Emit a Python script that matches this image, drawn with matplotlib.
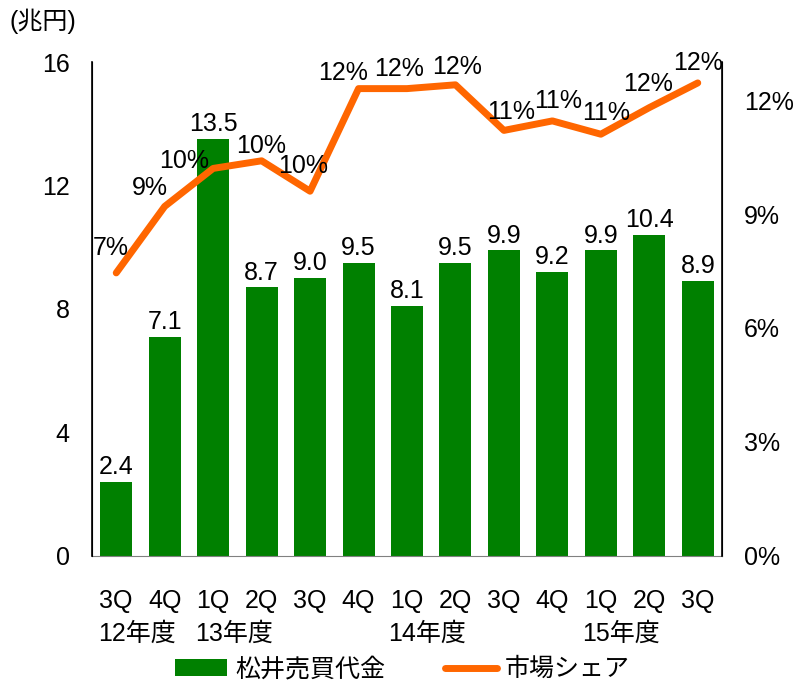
import matplotlib.pyplot as plt
from matplotlib.transforms import blended_transform_factory

plt.rcParams['font.family'] = ['Liberation Sans', 'Noto Sans CJK JP', 'DejaVu Sans']
plt.rcParams['font.size'] = 18

# data
quarters = ["3Q", "4Q", "1Q", "2Q", "3Q", "4Q", "1Q", "2Q", "3Q", "4Q", "1Q", "2Q", "3Q"]
years = ["12年度", "13年度", "14年度", "15年度"]
year_start = [0, 2, 6, 10]
volume = [2.4, 7.1, 13.5, 8.7, 9.0, 9.5, 8.1, 9.5, 9.9, 9.2, 9.9, 10.4, 8.9]
share = [7.45, 9.2, 10.2, 10.4, 9.6, 12.3, 12.3, 12.4, 11.2, 11.45, 11.1, 11.8, 12.45]

# label offsets for the share labels (points)
share_off = [(-4, 18), (-11, 13), (-21, 5), (0, 11), (-5, 18), (-11, 11), (-6, 14),
             (1, 13), (5, 13), (4, 14), (4, 15), (-1, 17), (0, 14)]

green = '#008000'
orange = '#FF6600'

fig = plt.figure(figsize=(8, 6.8), dpi=100)
ax = fig.add_axes([0.115, 0.1824, 0.7875, 0.7264])
ax2 = ax.twinx()

x = list(range(len(volume)))
bars = ax.bar(x, volume, width=0.66, color=green, label='松井売買代金', zorder=2)
ax.bar_label(bars, labels=[f'{v:.1f}' for v in volume], padding=2)

ax2.plot(x, share, color=orange, lw=5, solid_capstyle='round', label='市場シェア', zorder=3)
for i, (s, off) in enumerate(zip(share, share_off)):
    ax2.annotate(f'{round(s):.0f}%', (i, s), xytext=off, textcoords='offset points',
                 ha='center', va='center')

ax.set_xlim(-0.5, len(volume) - 0.5)
ax.set_ylim(0, 16)
ax.set_yticks([0, 4, 8, 12, 16])
ax2.set_ylim(0, 13)
ax2.set_yticks([0, 3, 6, 9, 12])
ax2.set_yticklabels([f'{t}%' for t in [0, 3, 6, 9, 12]])

ax.set_xticks(x)
ax.set_xticklabels(quarters)
ax.tick_params(axis='x', length=0, pad=24)
ax.tick_params(axis='y', length=0, pad=16)
ax2.tick_params(axis='y', length=0, pad=16)

for a in (ax, ax2):
    a.spines['top'].set_visible(False)
ax.spines['bottom'].set_color('#808080')
ax2.spines['bottom'].set_visible(False)
ax.spines['left'].set_linewidth(1.2)
ax2.spines['right'].set_linewidth(1.2)

trans = blended_transform_factory(ax.transData, ax.transAxes)
for lab, st in zip(years, year_start):
    ax.text(st - 0.38, -0.134, lab, transform=trans, ha='left', va='top')

fig.text(0.012, 0.968, '(兆円)', ha='left', va='center')

h1, l1 = ax.get_legend_handles_labels()
h2, l2 = ax2.get_legend_handles_labels()
fig.legend(h1 + h2, l1 + l2, loc='lower center', bbox_to_anchor=(0.503, -0.035), ncol=2,
           frameon=False, handlelength=2.1, columnspacing=2.4, handletextpad=0.3)

fig.savefig('out.png', dpi=100)
